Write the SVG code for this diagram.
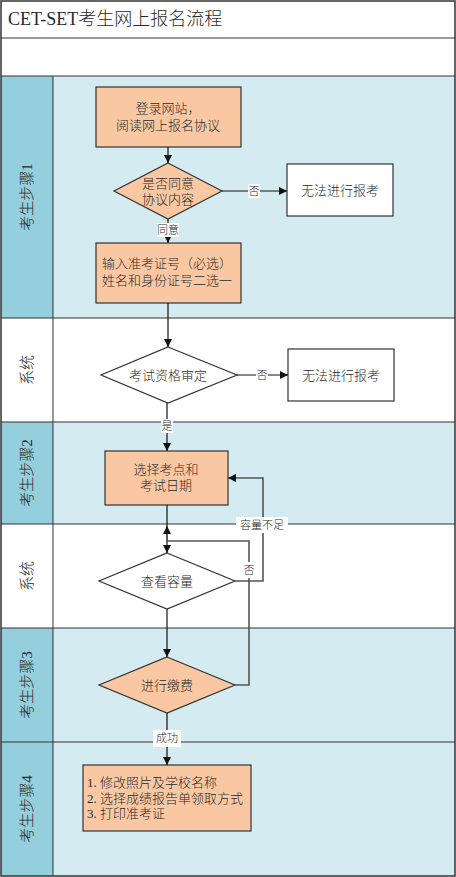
<svg xmlns="http://www.w3.org/2000/svg" width="456" height="877" viewBox="0 0 456 877">
<style>
text{font-family:"Liberation Serif","Noto Sans CJK SC",serif;fill:#2a2a2a;font-weight:300;}
.lane-line{stroke:#333;stroke-width:1;fill:none;}
.hdr{fill:#95CEDC;}
.cnt{fill:#D3EBF1;}
.proc{fill:#F9C8A2;stroke:#333;stroke-width:1.2;}
.term{fill:#ffffff;stroke:#333;stroke-width:1.2;}
.dec-o{fill:#F9C8A2;stroke:#333;stroke-width:1.2;}
.dec-w{fill:#ffffff;stroke:#333;stroke-width:1.2;}
.t{font-size:13px;dominant-baseline:central;}
.c{text-anchor:middle;}
.lane-t{font-size:15px;text-anchor:middle;dominant-baseline:central;}
.edge{stroke:#111;stroke-width:1.2;fill:none;}
.loop{stroke:#555;stroke-width:1.6;fill:none;}
.lbl{font-size:11px;text-anchor:middle;dominant-baseline:central;}
.lblbg{fill:#ffffff;}
</style>
<defs>
<marker id="arr" viewBox="0 0 10 10" refX="10" refY="5" markerUnits="userSpaceOnUse" markerWidth="8" markerHeight="8" orient="auto">
<path d="M0,0 L10,5 L0,10 Z" fill="#111"/>
</marker>
</defs>

<g id="lanes">
<rect x="1" y="1" width="454" height="875" fill="#ffffff"/>
<rect class="hdr" x="1" y="76" width="52" height="242"/>
<rect class="cnt" x="53" y="76" width="402" height="242"/>
<rect class="hdr" x="1" y="422" width="52" height="102"/>
<rect class="cnt" x="53" y="422" width="402" height="102"/>
<rect class="hdr" x="1" y="628" width="52" height="114"/>
<rect class="cnt" x="53" y="628" width="402" height="114"/>
<rect class="hdr" x="1" y="742" width="52" height="134"/>
<rect class="cnt" x="53" y="742" width="402" height="134"/>
<path class="lane-line" d="M1,38 H455 M1,76 H455 M1,318 H455 M1,422 H455 M1,524 H455 M1,628 H455 M1,742 H455 M53,76 V876"/>
<rect x="1" y="1" width="454" height="875" fill="none" stroke="#333" stroke-width="1.5"/>
<text x="8" y="19" font-size="18" dominant-baseline="central">CET-SET考生网上报名流程</text>
<text class="lane-t" transform="translate(27,197) rotate(-90)">考生步骤1</text>
<text class="lane-t" transform="translate(27,370) rotate(-90)">系统</text>
<text class="lane-t" transform="translate(27,473) rotate(-90)">考生步骤2</text>
<text class="lane-t" transform="translate(27,576) rotate(-90)">系统</text>
<text class="lane-t" transform="translate(27,685) rotate(-90)">考生步骤3</text>
<text class="lane-t" transform="translate(27,809) rotate(-90)">考生步骤4</text>
</g>

<g id="n-login">
<rect class="proc" x="96" y="87" width="145" height="60"/>
<text class="t c" x="168" y="108">登录网站，</text>
<text class="t c" x="168" y="125">阅读网上报名协议</text>
</g>
<g id="n-agree">
<polygon class="dec-o" points="168,163 222,191 168,219 114,191"/>
<text class="t c" x="168" y="183">是否同意</text>
<text class="t c" x="168" y="199">协议内容</text>
</g>
<g id="n-fail1">
<rect class="term" x="287" y="164" width="106" height="52"/>
<text class="t c" x="340" y="190">无法进行报考</text>
</g>
<g id="n-input">
<rect class="proc" x="96" y="243" width="145" height="60"/>
<text class="t" x="102" y="263">输入准考证号（必选）</text>
<text class="t" x="102" y="280">姓名和身份证号二选一</text>
</g>
<g id="n-qual">
<polygon class="dec-w" points="168,347 237,375 168,403 101,375"/>
<text class="t c" x="168" y="375">考试资格审定</text>
</g>
<g id="n-fail2">
<rect class="term" x="288" y="349" width="106" height="52"/>
<text class="t c" x="341" y="375">无法进行报考</text>
</g>
<g id="n-select">
<rect class="proc" x="105" y="451" width="123" height="54"/>
<text class="t c" x="166" y="469">选择考点和</text>
<text class="t c" x="166" y="485">考试日期</text>
</g>
<g id="n-cap">
<polygon class="dec-w" points="167,553 235,581 167,609 99,581"/>
<text class="t c" x="167" y="581">查看容量</text>
</g>
<g id="n-pay">
<polygon class="dec-o" points="167,657 235,685 167,713 99,685"/>
<text class="t c" x="167" y="685">进行缴费</text>
</g>
<g id="n-final">
<rect class="proc" x="83" y="765" width="168" height="66"/>
<text class="t" x="87" y="782">1. 修改照片及学校名称</text>
<text class="t" x="87" y="798">2. 选择成绩报告单领取方式</text>
<text class="t" x="87" y="813">3. 打印准考证</text>
</g>

<g id="connectors">
<path class="edge" d="M168,147 V163" marker-end="url(#arr)"/>
<path class="edge" d="M222,191 H287" marker-end="url(#arr)"/>
<path class="edge" d="M168,219 V243" marker-end="url(#arr)"/>
<path class="edge" d="M168,303 V347" marker-end="url(#arr)"/>
<path class="edge" d="M237,375 H288" marker-end="url(#arr)"/>
<path class="edge" d="M167,403 V451" marker-end="url(#arr)"/>
<path class="edge" d="M167,505 V553" marker-end="url(#arr)"/>
<path class="loop" d="M235,581 H263 V478 H228" marker-end="url(#arr)"/>
<path class="edge" d="M167,609 V657" marker-end="url(#arr)"/>
<path class="loop" d="M235,685 H249 V541 H167 V526" marker-end="url(#arr)"/>
<path class="edge" d="M167,713 V765" marker-end="url(#arr)"/>
</g>

<g id="edge-labels">
<rect class="lblbg" x="248" y="184" width="12" height="14"/>
<text class="lbl" x="254" y="191">否</text>
<rect class="lblbg" x="157" y="223" width="22" height="14"/>
<text class="lbl" x="168" y="230">同意</text>
<rect class="lblbg" x="256" y="368" width="12" height="14"/>
<text class="lbl" x="262" y="375">否</text>
<rect class="lblbg" x="161" y="419" width="12" height="14"/>
<text class="lbl" x="167" y="426">是</text>
<rect class="lblbg" x="236" y="517" width="52" height="16"/>
<text class="lbl" x="262" y="525" font-size="12">容量不足</text>
<rect class="lblbg" x="242" y="562" width="14" height="16"/>
<text class="lbl" x="249" y="570" font-size="12">否</text>
<rect class="lblbg" x="153" y="730" width="28" height="17"/>
<text class="lbl" x="167" y="738" font-size="13">成功</text>
</g>
</svg>
